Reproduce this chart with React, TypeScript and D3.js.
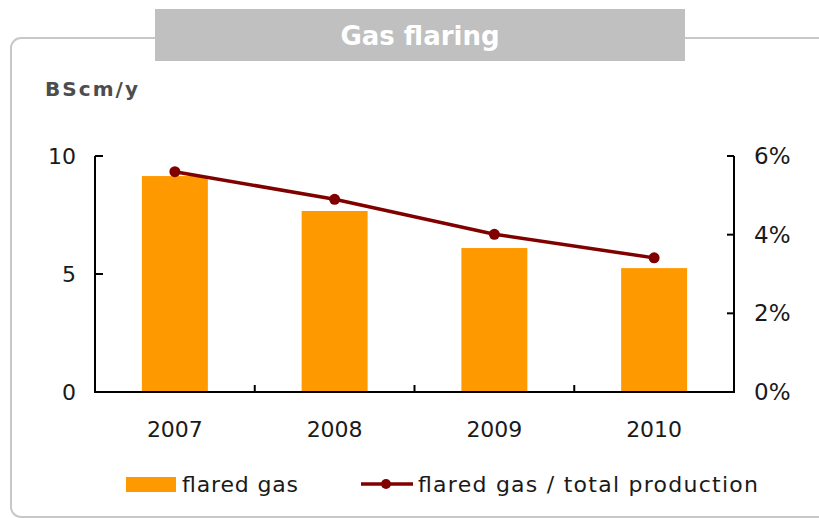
import React from "react";
import * as d3 from "d3";

const years = ["2007", "2008", "2009", "2010"];
const flaredGas = [9.15, 7.67, 6.1, 5.25];
const flaredShare = [0.056, 0.049, 0.0401, 0.0341];
const leftTicks = [0, 5, 10];
const rightTicks = [0, 0.02, 0.04, 0.06];

const W = 819;
const H = 518;
const FONT = "'DejaVu Sans', Verdana, sans-serif";

export default function App() {
  const x = d3.scaleBand<string>().domain(years).range([95, 734]).paddingInner(0.587).paddingOuter(0.2935);
  const step = (734 - 95) / years.length;
  const yL = d3.scaleLinear().domain([0, 10]).range([392, 156]);
  const yR = d3.scaleLinear().domain([0, 0.06]).range([392, 156]);
  const cx = (d: string) => (x(d) ?? 0) + x.bandwidth() / 2;
  const line = d3
    .line<number>()
    .x((_, i) => cx(years[i]))
    .y((d) => yR(d));
  const pct = d3.format(".0%");

  return (
    <svg width={W} height={H} style={{ position: "absolute", left: 0, top: 0, background: "#fff" }}>
      {/* frame */}
      <rect x={11} y={38} width={840} height={479} rx={10} ry={10} fill="none" stroke="#c8c8c8" strokeWidth={2} />
      {/* title box */}
      <rect x={155} y={9} width={530} height={52} fill="#c0c0c0" />
      <text x={420} y={45} textAnchor="middle" fill="#fff" fontFamily={FONT} fontWeight="bold" fontSize={26}>
        Gas flaring
      </text>
      <text x={45} y={96} fill="#4d4d4d" fontFamily={FONT} fontWeight="bold" fontSize={20} textLength={93} lengthAdjust="spacing">
        BScm/y
      </text>

      {/* bars */}
      {flaredGas.map((v, i) => (
        <rect key={years[i]} x={x(years[i])} y={yL(v)} width={x.bandwidth()} height={yL(0) - yL(v)} fill="#ff9900" />
      ))}

      {/* axes */}
      <line x1={95} x2={95} y1={156} y2={392} stroke="#000" strokeWidth={2} />
      <line x1={734} x2={734} y1={156} y2={392} stroke="#000" strokeWidth={2} />
      <line x1={94} x2={735} y1={392} y2={392} stroke="#000" strokeWidth={2} />
      {leftTicks.map((t) => (
        <g key={"l" + t}>
          <line x1={95} x2={103} y1={yL(t)} y2={yL(t)} stroke="#000" strokeWidth={2} />
          <text x={76} y={yL(t) + 8} textAnchor="end" fontFamily={FONT} fontSize={22} fill="#1a1a1a">
            {t}
          </text>
        </g>
      ))}
      {rightTicks.map((t) => (
        <g key={"r" + t}>
          <line x1={727} x2={734} y1={yR(t)} y2={yR(t)} stroke="#000" strokeWidth={2} />
          <text x={754} y={yR(t) + 8} textAnchor="start" fontFamily={FONT} fontSize={23} fill="#1a1a1a">
            {pct(t)}
          </text>
        </g>
      ))}
      {years.slice(1).map((y, i) => (
        <line key={"xt" + y} x1={95 + step * (i + 1)} x2={95 + step * (i + 1)} y1={385} y2={392} stroke="#000" strokeWidth={2} />
      ))}
      {years.map((y) => (
        <text key={"xl" + y} x={cx(y)} y={437} textAnchor="middle" fontFamily={FONT} fontSize={22} fill="#1a1a1a">
          {y}
        </text>
      ))}

      {/* line */}
      <path d={line(flaredShare) ?? ""} fill="none" stroke="#800000" strokeWidth={3.5} />
      {flaredShare.map((v, i) => (
        <circle key={"p" + i} cx={cx(years[i])} cy={yR(v)} r={5.5} fill="#800000" />
      ))}

      {/* legend */}
      <rect x={126} y={477} width={50} height={15} fill="#ff9900" />
      <text x={182} y={492} fontFamily={FONT} fontSize={22} fill="#1a1a1a" textLength={116} lengthAdjust="spacing">
        flared gas
      </text>
      <line x1={361} x2={413} y1={484} y2={484} stroke="#800000" strokeWidth={3.5} />
      <circle cx={386} cy={484} r={5} fill="#800000" />
      <text x={418} y={492} fontFamily={FONT} fontSize={22} fill="#1a1a1a" textLength={340} lengthAdjust="spacing">
        flared gas / total production
      </text>
    </svg>
  );
}
